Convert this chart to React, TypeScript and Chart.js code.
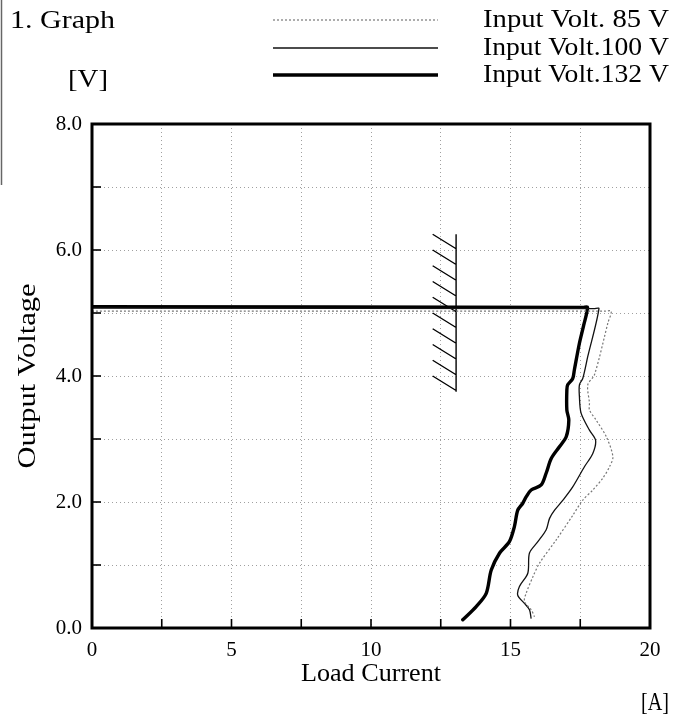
import React, { useEffect, useRef } from 'react';
import { Chart, registerables } from 'chart.js';
Chart.register(...registerables);

// ---------- data ----------
const xTickValues = [0, 5, 10, 15, 20];
const yTickValues = [0, 2, 4, 6, 8];

// Input Volt. 85 V (dotted)
const current85 = [0, 18.4, 18.61, 18.49, 18.01, 17.77, 17.83, 17.83, 18.07, 18.43, 18.67, 18.55, 18.31, 17.95, 17.59, 17.25, 16.64, 16.04, 15.8, 15.56, 15.5, 15.74, 15.86];
const volt85 = [5.03, 5.03, 5.03, 4.84, 4.02, 3.86, 3.57, 3.46, 3.3, 3.04, 2.72, 2.56, 2.38, 2.19, 2.03, 1.8, 1.4, 1.03, 0.81, 0.55, 0.42, 0.29, 0.18];

// Input Volt. 100 V (thin)
const current100 = [0, 18.0, 18.17, 17.77, 17.59, 17.47, 17.47, 17.53, 17.83, 18.05, 17.95, 17.65, 17.23, 16.88, 16.58, 16.4, 16.28, 15.98, 15.68, 15.62, 15.32, 15.26, 15.5, 15.68, 15.74];
const volt100 = [5.08, 5.07, 5.07, 4.31, 3.96, 3.86, 3.67, 3.41, 3.14, 2.98, 2.77, 2.56, 2.24, 2.03, 1.87, 1.74, 1.56, 1.37, 1.19, 0.87, 0.66, 0.52, 0.39, 0.29, 0.15];

// Input Volt. 132 V (thick)
const current132 = [0, 17.6, 17.76, 17.62, 17.47, 17.29, 17.23, 17.05, 17.02, 17.02, 17.09, 17.0, 16.76, 16.46, 16.28, 16.1, 15.74, 15.56, 15.44, 15.26, 15.14, 14.96, 14.61, 14.31, 14.13, 13.77, 13.29];
const volt132 = [5.1, 5.09, 5.09, 4.8, 4.52, 4.1, 3.96, 3.86, 3.78, 3.46, 3.3, 3.04, 2.88, 2.69, 2.46, 2.27, 2.19, 2.08, 1.98, 1.87, 1.61, 1.37, 1.19, 0.92, 0.55, 0.34, 0.13];

// hatched limit mark
const hatchCurrent = 13.05;
const hatchTops = [6.25, 6.0, 5.75, 5.5, 5.25, 5.0, 4.75, 4.5, 4.25, 4.0];
const hatchBottom = 3.75;
const hatchRun = 0.84;
const hatchDrop = 0.23;

const legendLabels = ['Input Volt. 85 V', 'Input Volt.100 V', 'Input Volt.132 V'];

// ---------- helpers ----------
const FONT = '"Liberation Serif", "DejaVu Serif", serif';
const pts = (xs: number[], ys: number[]) => xs.map((x, i) => ({ x, y: ys[i] }));

function hatchData() {
  const d: any[] = [{ x: hatchCurrent, y: hatchTops[0] }, { x: hatchCurrent, y: hatchBottom }, { x: hatchCurrent, y: null }];
  hatchTops.forEach((t) => {
    d.push({ x: hatchCurrent - hatchRun, y: t }, { x: hatchCurrent, y: t - hatchDrop }, { x: hatchCurrent, y: null });
  });
  return d;
}

function fitText(ctx: CanvasRenderingContext2D, text: string, x: number, y: number, size: number, width: number, align: CanvasTextAlign, rot = 0) {
  ctx.save();
  ctx.font = `${size}px ${FONT}`;
  const w = ctx.measureText(text).width;
  const sx = width / w;
  ctx.translate(x, y);
  if (rot) ctx.rotate(rot);
  ctx.scale(sx, 1);
  ctx.textAlign = align;
  ctx.textBaseline = 'middle';
  ctx.fillStyle = '#000';
  ctx.fillText(text, 0, 0);
  ctx.restore();
}

const styles85 = { color: '#777', width: 1.2, dash: [2, 2] };
const styles100 = { color: '#111', width: 1.3, dash: [] as number[] };
const styles132 = { color: '#000', width: 3.4, dash: [] as number[] };

const decor = {
  id: 'decor',
  beforeDraw(chart: any) {
    const { ctx, width, height } = chart;
    ctx.save();
    ctx.fillStyle = '#fff';
    ctx.fillRect(0, 0, width, height);
    ctx.restore();
  },
  afterDraw(chart: any) {
    const { ctx, chartArea: a } = chart;
    const xs = chart.scales.x;
    const ys = chart.scales.y;
    ctx.save();
    ctx.strokeStyle = '#000';
    ctx.lineWidth = 1.6;
    ctx.setLineDash([]);
    ys.ticks.forEach((t: any) => {
      const p = ys.getPixelForValue(t.value);
      ctx.beginPath(); ctx.moveTo(a.left, p); ctx.lineTo(a.left + 9, p); ctx.stroke();
    });
    xs.ticks.forEach((t: any) => {
      const p = xs.getPixelForValue(t.value);
      ctx.beginPath(); ctx.moveTo(p, a.bottom); ctx.lineTo(p, a.bottom - 9); ctx.stroke();
    });
    ctx.lineWidth = 3;
    ctx.strokeRect(a.left, a.top, a.right - a.left, a.bottom - a.top);

    // scan edge artifact
    ctx.strokeStyle = '#666';
    ctx.lineWidth = 1.5;
    ctx.beginPath(); ctx.moveTo(1.5, 0); ctx.lineTo(1.5, 185); ctx.stroke();

    // legend
    const rows = [20, 48, 75];
    [styles85, styles100, styles132].forEach((s, i) => {
      ctx.strokeStyle = s.color;
      ctx.lineWidth = s.width;
      ctx.setLineDash(s.dash);
      ctx.beginPath(); ctx.moveTo(273, rows[i]); ctx.lineTo(438, rows[i]); ctx.stroke();
      ctx.setLineDash([]);
      fitText(ctx, legendLabels[i], 483, rows[i], 26, 186, 'left');
    });
    fitText(ctx, '1. Graph', 10, 21, 26, 105, 'left');
    fitText(ctx, '[V]', 88, 80, 26, 40, 'center');
    fitText(ctx, 'Output Voltage', 28, (a.top + a.bottom) / 2, 26, 185, 'center', -Math.PI / 2);
    fitText(ctx, 'Load Current', (a.left + a.right) / 2, 674, 26, 140, 'center');
    fitText(ctx, '[A]', 655, 703, 26, 28, 'center');
    ctx.restore();
  },
};

export default function App() {
  const ref = useRef<HTMLCanvasElement>(null);
  useEffect(() => {
    document.body.style.margin = '0';
    const tickFont = { family: FONT, size: 21 };
    const chart = new Chart(ref.current as HTMLCanvasElement, {
      type: 'line',
      data: {
        datasets: [
          { label: legendLabels[0], data: pts(current85, volt85), borderColor: styles85.color, borderWidth: styles85.width, borderDash: styles85.dash, pointRadius: 0, tension: 0.3, fill: false },
          { label: legendLabels[1], data: pts(current100, volt100), borderColor: styles100.color, borderWidth: styles100.width, pointRadius: 0, tension: 0.3, fill: false },
          { label: legendLabels[2], data: pts(current132, volt132), borderColor: styles132.color, borderWidth: styles132.width, pointRadius: 0, tension: 0.3, fill: false, borderJoinStyle: 'round', borderCapStyle: 'round' },
          { label: 'limit', data: hatchData(), borderColor: '#000', borderWidth: 1.4, pointRadius: 0, tension: 0, fill: false, spanGaps: false },
        ] as any,
      },
      options: {
        animation: false,
        responsive: false,
        devicePixelRatio: 1,
        maintainAspectRatio: false,
        layout: { padding: { top: 124, right: 40, bottom: 0, left: 0 } },
        plugins: { legend: { display: false }, tooltip: { enabled: false } },
        scales: {
          x: {
            type: 'linear', min: 0, max: 20,
            ticks: {
              stepSize: 2.5, autoSkip: false, maxRotation: 0, padding: 10, color: '#000', font: tickFont,
              callback: (v: any) => (xTickValues.includes(Number(v)) ? String(v) : ''),
            },
            grid: { color: '#a0a0a0', lineWidth: 1, drawTicks: false },
            border: { display: false, dash: [1, 3] },
            afterFit: (s: any) => { s.height = 719 - 628; },
          },
          y: {
            type: 'linear', min: 0, max: 8,
            ticks: {
              stepSize: 1, padding: 10, color: '#000', font: tickFont,
              callback: (v: any) => (yTickValues.includes(Number(v)) ? Number(v).toFixed(1) : ''),
            },
            grid: { color: '#a0a0a0', lineWidth: 1, drawTicks: false },
            border: { display: false, dash: [1, 3] },
            afterFit: (s: any) => { s.width = 92; },
          },
        },
      } as any,
      plugins: [decor],
    });
    return () => chart.destroy();
  }, []);
  return (
    <div style={{ position: 'absolute', left: 0, top: 0, width: 690, height: 719 }}>
      <canvas ref={ref} width={690} height={719} style={{ width: 690, height: 719 }} />
    </div>
  );
}
